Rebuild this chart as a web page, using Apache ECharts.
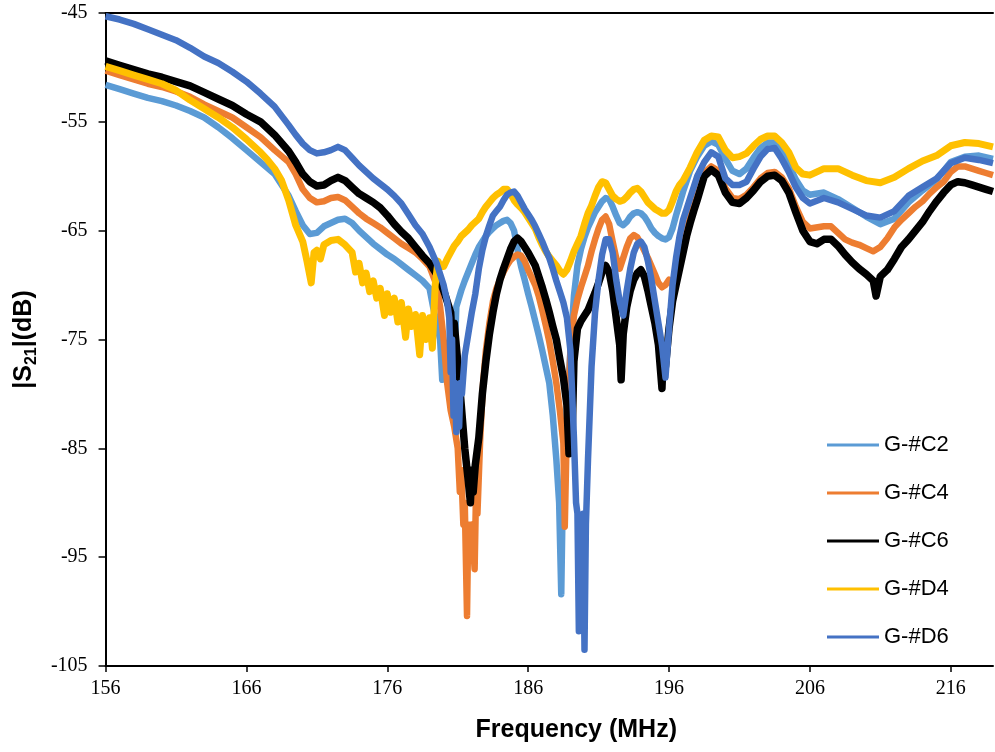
<!DOCTYPE html>
<html>
<head>
<meta charset="utf-8">
<script src="https://cdn.jsdelivr.net/npm/echarts/dist/echarts.min.js"></script>
<style>
html,body{margin:0;padding:0;background:#fff;}
#chart{width:995px;height:752px;}
</style>
</head>
<body>
<div id="chart"></div>
<script>
const seriesNames = ['G-#C2', 'G-#C4', 'G-#C6', 'G-#D4', 'G-#D6'];
const seriesColors = ['#5B9BD5', '#ED7D31', '#000000', '#FFC000', '#4472C4'];
const xTicks = [156, 166, 176, 186, 196, 206, 216];
const yTicks = [-105, -95, -85, -75, -65, -55, -45];

const dataC2 = [[156,-51.6],[157,-52.0],[158,-52.4],[159,-52.8],[160,-53.1],[161,-53.5],[162,-54.0],[163,-54.6],[164,-55.5],[165,-56.5],[166,-57.6],[167,-58.7],[168,-59.8],[169,-61.8],[169.5,-63.2],[170,-64.5],[170.5,-65.3],[171,-65.2],[171.5,-64.6],[172,-64.3],[172.5,-64.0],[173,-63.9],[173.5,-64.3],[174,-65.0],[174.5,-65.6],[175,-66.2],[175.5,-66.7],[176,-67.2],[176.5,-67.6],[177,-68.1],[177.5,-68.6],[178,-69.1],[178.5,-69.6],[179,-70.3],[179.25,-72],[179.5,-73.5],[179.75,-75],[179.9,-78.7],[180,-75.5],[180.25,-77],[180.5,-80],[180.75,-78],[180.9,-72],[181.25,-70.5],[181.5,-69.6],[181.75,-68.8],[182,-68],[182.25,-67.2],[182.5,-66.5],[182.75,-66],[183,-65.5],[183.25,-65.1],[183.5,-64.8],[183.75,-64.5],[184,-64.3],[184.25,-64.1],[184.5,-64.0],[184.75,-64.3],[185,-65],[185.25,-66.8],[185.5,-68.3],[185.75,-69.5],[186,-70.8],[186.25,-72],[186.5,-73.3],[186.75,-74.6],[187,-76],[187.25,-77.5],[187.5,-79],[187.75,-82],[188,-86],[188.2,-90],[188.35,-98.4],[188.45,-90],[188.6,-88],[188.75,-82],[189,-76],[189.25,-71],[189.5,-68.2],[189.75,-66.7],[190,-65.6],[190.25,-64.7],[190.5,-64],[190.75,-63.3],[191,-62.8],[191.25,-62.3],[191.5,-62],[191.75,-62.1],[192,-62.8],[192.25,-63.6],[192.5,-64.3],[192.75,-64.5],[193,-64.2],[193.25,-63.7],[193.5,-63.4],[193.75,-63.3],[194,-63.4],[194.25,-63.7],[194.5,-64.2],[194.75,-64.8],[195,-65.2],[195.25,-65.5],[195.5,-65.7],[195.75,-65.8],[196,-65.6],[196.25,-64.8],[196.5,-63.6],[196.75,-62.5],[197,-61.4],[197.5,-59.5],[198,-58.2],[198.5,-57.2],[199,-56.8],[199.5,-57.1],[200,-58.4],[200.5,-59.5],[201,-59.8],[201.5,-59.3],[202,-58.3],[202.5,-57.4],[203,-56.9],[203.5,-56.9],[204,-57.6],[204.5,-58.9],[205,-60.3],[205.5,-61.3],[206,-61.7],[207,-61.5],[208,-62.1],[209,-62.9],[210,-63.7],[211,-64.4],[212,-63.9],[213,-62.4],[214,-61.3],[215,-60.3],[216,-58.7],[217,-58.2],[218,-58.1],[219,-58.4]];

const dataC4 = [[156,-50.3],[157,-50.7],[158,-51.1],[159,-51.5],[160,-51.8],[161,-52.2],[162,-52.7],[163,-53.4],[164,-54.0],[165,-54.6],[166,-55.5],[167,-56.4],[168,-57.6],[169,-58.7],[169.5,-59.8],[170,-61.2],[170.5,-62.0],[171,-62.4],[171.5,-62.3],[172,-62.0],[172.5,-61.9],[173,-62.2],[173.5,-62.8],[174,-63.4],[174.5,-63.9],[175,-64.3],[175.5,-64.7],[176,-65.2],[176.5,-65.7],[177,-66.2],[177.5,-66.6],[178,-67.0],[178.5,-67.6],[179,-68.3],[179.5,-70],[179.75,-72],[180,-75],[180.25,-79],[180.5,-81.5],[180.75,-83],[181,-85],[181.15,-89],[181.25,-87],[181.4,-92],[181.5,-90],[181.66,-100.4],[181.75,-92],[181.9,-94.5],[182,-92],[182.2,-96.1],[182.3,-89],[182.4,-91],[182.6,-84],[182.8,-79],[183,-76],[183.25,-73.5],[183.5,-71.5],[183.75,-70.3],[184,-69.5],[184.25,-68.8],[184.5,-68.2],[184.75,-67.7],[185,-67.4],[185.25,-67.2],[185.5,-67.3],[185.75,-67.8],[186,-68.6],[186.25,-69.3],[186.5,-70],[186.75,-71],[187,-72.3],[187.25,-73.7],[187.5,-75.2],[187.75,-77],[188,-79],[188.25,-81.5],[188.5,-84.5],[188.6,-92.2],[188.7,-86],[188.85,-81],[189,-76],[189.25,-72.8],[189.5,-71.3],[189.75,-70.2],[190,-69.2],[190.25,-68.2],[190.5,-66.9],[190.75,-65.8],[191,-64.8],[191.25,-64],[191.5,-63.7],[191.75,-64.4],[192,-66],[192.25,-67.5],[192.5,-68.5],[192.75,-67.5],[193,-66.5],[193.25,-65.7],[193.5,-65.4],[193.75,-65.6],[194,-66.2],[194.5,-67.5],[195,-69],[195.25,-69.8],[195.5,-70.2],[195.75,-70],[196,-69.5],[196.25,-70],[196.5,-69],[196.75,-68],[197,-66.5],[197.25,-65],[197.5,-63.8],[197.75,-62.7],[198,-61.7],[198.5,-59.7],[199,-59.1],[199.5,-59.5],[200,-61.1],[200.5,-62],[201,-62.1],[201.5,-61.7],[202,-61],[202.5,-60.2],[203,-59.7],[203.5,-59.6],[204,-60.1],[204.5,-61.1],[205,-62.8],[205.5,-64.2],[206,-64.8],[207,-64.6],[207.5,-64.6],[208,-65.2],[208.5,-65.8],[209,-66.1],[209.5,-66.3],[210,-66.6],[210.5,-66.9],[211,-66.5],[211.5,-65.7],[212,-64.7],[212.5,-64],[213,-63.4],[213.5,-62.8],[214,-62.3],[214.5,-61.6],[215,-61],[215.5,-60.5],[216,-59.6],[216.5,-59.1],[217,-59.1],[217.5,-59.3],[218,-59.5],[218.5,-59.7],[219,-59.9]];

const dataC6 = [[156,-49.4],[157,-49.8],[158,-50.2],[159,-50.6],[160,-50.9],[161,-51.3],[162,-51.7],[163,-52.3],[164,-52.9],[165,-53.5],[166,-54.3],[167,-55.0],[168,-56.2],[169,-57.7],[169.5,-58.7],[170,-59.8],[170.5,-60.5],[171,-60.9],[171.5,-60.8],[172,-60.4],[172.5,-60.1],[173,-60.4],[173.5,-61.0],[174,-61.6],[174.5,-62.0],[175,-62.4],[175.5,-62.9],[176,-63.6],[176.5,-64.4],[177,-65.1],[177.5,-65.7],[178,-66.5],[178.5,-67.3],[179,-68.0],[179.5,-69.0],[180,-70.5],[180.25,-71.5],[180.5,-72.5],[180.6,-75],[180.75,-73.5],[181,-77],[181.25,-81],[181.5,-85],[181.75,-88],[181.9,-90],[182,-87],[182.1,-89],[182.25,-86.5],[182.5,-84],[182.75,-80],[183,-77],[183.25,-74.5],[183.5,-72.5],[183.75,-70.8],[184,-69.5],[184.25,-68.5],[184.5,-67.6],[184.75,-66.7],[185,-66],[185.25,-65.7],[185.5,-66],[185.75,-66.5],[186,-67],[186.25,-67.6],[186.5,-68.2],[186.75,-69.2],[187,-70.2],[187.25,-71.3],[187.5,-72.5],[187.75,-73.8],[188,-75],[188.25,-76.8],[188.5,-78.5],[188.75,-81],[188.9,-85.5],[189,-82],[189.1,-85],[189.25,-77],[189.5,-74],[189.75,-73.3],[190,-72.8],[190.25,-72.3],[190.5,-71.5],[190.75,-70.7],[191,-69.8],[191.25,-68.8],[191.5,-68.2],[191.75,-68.8],[192,-70.5],[192.25,-73],[192.5,-75.5],[192.6,-78.7],[192.75,-74.5],[193,-72],[193.25,-70.5],[193.5,-69.5],[193.75,-68.9],[194,-68.6],[194.25,-69.2],[194.5,-70.5],[194.75,-72],[195,-73.5],[195.25,-75.5],[195.5,-79.5],[195.6,-76],[195.75,-77.5],[196,-74],[196.25,-71.5],[196.5,-70],[196.75,-68.5],[197,-67],[197.25,-65.5],[197.5,-64.3],[197.75,-63.2],[198,-62.2],[198.5,-60],[199,-59.4],[199.5,-59.9],[200,-61.5],[200.5,-62.4],[201,-62.5],[201.5,-62],[202,-61.3],[202.5,-60.5],[203,-60],[203.5,-59.9],[204,-60.4],[204.5,-61.5],[205,-63.3],[205.5,-65],[206,-66],[206.5,-66.2],[207,-65.8],[207.5,-65.8],[208,-66.4],[208.5,-67.2],[209,-67.9],[209.5,-68.5],[210,-69],[210.5,-69.6],[210.7,-71],[211,-69.2],[211.5,-68.6],[212,-67.6],[212.5,-66.5],[213,-65.8],[213.5,-65],[214,-64.2],[214.5,-63.2],[215,-62.3],[215.5,-61.5],[216,-60.8],[216.5,-60.5],[217,-60.6],[217.5,-60.8],[218,-61],[218.5,-61.2],[219,-61.4]];

const dataD4 = [[156,-49.9],[157,-50.3],[158,-50.7],[159,-51.1],[160,-51.5],[161,-52.1],[162,-53.0],[163,-53.8],[164,-54.6],[165,-55.5],[166,-56.6],[167,-57.8],[167.5,-58.5],[168,-59.3],[168.5,-60.4],[169,-62.2],[169.5,-64.5],[170,-66],[170.3,-67.8],[170.6,-69.8],[170.8,-67],[171,-66.8],[171.25,-67.6],[171.5,-66.3],[172,-65.9],[172.5,-65.8],[173,-66.3],[173.5,-67],[173.75,-68.8],[174,-68],[174.25,-69.8],[174.5,-68.9],[174.75,-70.6],[175,-69.6],[175.25,-71.2],[175.5,-70.3],[175.8,-72.8],[176,-70.8],[176.25,-72.5],[176.5,-71.2],[176.75,-73.4],[177,-71.6],[177.3,-74.8],[177.5,-72.2],[177.75,-73.8],[178,-72.7],[178.3,-76.4],[178.5,-72.8],[178.75,-75],[179,-73],[179.2,-75.8],[179.4,-70],[179.6,-67.8],[179.75,-68.3],[180,-68.3],[180.25,-67.6],[180.5,-67],[180.75,-66.4],[181,-66],[181.25,-65.5],[181.5,-65.2],[181.75,-64.9],[182,-64.5],[182.25,-64.2],[182.5,-63.9],[182.75,-63.3],[183,-62.8],[183.25,-62.4],[183.5,-62],[183.75,-61.7],[184,-61.5],[184.25,-61.2],[184.5,-61.2],[184.75,-61.6],[185,-62.2],[185.25,-62.6],[185.5,-62.9],[185.75,-63.3],[186,-63.8],[186.25,-64.3],[186.5,-64.8],[186.75,-65.6],[187,-66.3],[187.25,-66.9],[187.5,-67.4],[187.75,-67.8],[188,-68.2],[188.25,-68.7],[188.5,-69],[188.75,-68.6],[189,-67.8],[189.25,-66.9],[189.5,-66.2],[189.75,-65.5],[190,-64.4],[190.25,-63.4],[190.5,-62.7],[190.75,-61.8],[191,-61],[191.25,-60.5],[191.5,-60.6],[191.75,-61.2],[192,-61.8],[192.25,-62.1],[192.5,-62.3],[192.75,-62.2],[193,-61.9],[193.25,-61.5],[193.5,-61.2],[193.75,-61.1],[194,-61.4],[194.25,-61.9],[194.5,-62.4],[194.75,-62.7],[195,-63],[195.25,-63.2],[195.5,-63.4],[195.75,-63.4],[196,-63.1],[196.25,-62.3],[196.5,-61.4],[196.75,-60.8],[197,-60.4],[197.5,-59.2],[198,-57.8],[198.5,-56.7],[199,-56.3],[199.5,-56.4],[200,-57.6],[200.5,-58.3],[201,-58.2],[201.5,-57.9],[202,-57.2],[202.5,-56.6],[203,-56.3],[203.5,-56.3],[204,-56.9],[204.5,-57.8],[205,-59.2],[205.5,-59.8],[206,-59.9],[207,-59.3],[208,-59.3],[209,-59.9],[210,-60.4],[211,-60.6],[212,-60.1],[213,-59.3],[214,-58.6],[215,-58.1],[216,-57.2],[217,-56.9],[218,-57],[219,-57.3]];

const dataD6 = [[156,-45.3],[157,-45.6],[158,-46.0],[159,-46.5],[160,-47.0],[161,-47.5],[162,-48.2],[163,-49.0],[164,-49.6],[165,-50.4],[166,-51.3],[167,-52.4],[168,-53.6],[169,-55.3],[169.5,-56.2],[170,-57.0],[170.5,-57.6],[171,-57.9],[171.5,-57.8],[172,-57.6],[172.5,-57.3],[173,-57.6],[173.5,-58.3],[174,-59.0],[174.5,-59.6],[175,-60.2],[175.5,-60.7],[176,-61.2],[176.5,-61.8],[177,-62.5],[177.5,-63.5],[178,-64.5],[178.5,-65.3],[179,-66.5],[179.5,-68],[180,-70],[180.25,-71.5],[180.4,-73],[180.5,-78],[180.6,-75],[180.7,-82],[180.8,-79],[180.9,-83.5],[181,-80],[181.1,-83],[181.2,-79],[181.3,-80],[181.5,-76.5],[181.75,-74.5],[182,-72.5],[182.25,-70.8],[182.5,-68.5],[182.75,-66.8],[183,-65.5],[183.25,-64.5],[183.5,-63.6],[183.75,-63.2],[184,-62.8],[184.25,-62.2],[184.5,-61.7],[184.75,-61.5],[185,-61.4],[185.25,-61.8],[185.5,-62.4],[185.75,-63],[186,-63.5],[186.25,-64],[186.5,-64.6],[186.75,-65.3],[187,-66],[187.25,-66.8],[187.5,-67.5],[187.75,-68.5],[188,-69.6],[188.25,-70.6],[188.5,-71.6],[188.75,-73],[189,-76],[189.25,-84],[189.4,-90],[189.5,-91],[189.6,-101.8],[189.7,-92],[189.8,-93],[189.9,-91],[190,-103.5],[190.1,-92],[190.25,-86],[190.5,-77.5],[190.75,-72.5],[191,-69.5],[191.25,-67.2],[191.5,-65.8],[191.75,-65.8],[192,-67],[192.25,-69.5],[192.5,-71.5],[192.75,-72.8],[193,-70.5],[193.25,-68.5],[193.5,-67],[193.75,-66.2],[194,-66],[194.25,-66.5],[194.5,-67.8],[194.75,-69.5],[195,-71.5],[195.25,-73.5],[195.5,-75.5],[195.75,-78.5],[196,-74],[196.25,-70],[196.5,-67.5],[196.75,-65.5],[197,-64],[197.25,-63],[197.5,-62],[197.75,-61],[198,-60],[198.5,-58.7],[199,-57.8],[199.5,-58.2],[200,-60.2],[200.5,-60.8],[201,-60.8],[201.5,-60.5],[202,-59.3],[202.5,-58.2],[203,-57.5],[203.5,-57.4],[204,-58.4],[204.5,-59.6],[205,-61],[205.5,-62],[206,-62.5],[207,-62],[208,-62.4],[209,-63],[210,-63.6],[211,-63.8],[212,-63.2],[213,-61.8],[214,-61],[215,-60.2],[216,-58.8],[217,-58.3],[218,-58.5],[219,-58.8]];

const allData = [dataC2, dataC4, dataC6, dataD4, dataD6];
const lineWidths = [6.5, 6.5, 7.5, 7, 6.5];

const chart = echarts.init(document.getElementById('chart'), null, {renderer: 'canvas'});
const serifFont = 'Liberation Serif, Times New Roman, serif';
const sansFont = 'Liberation Sans, Arial, sans-serif';

chart.setOption({
  animation: false,
  backgroundColor: '#ffffff',
  grid: {left: 105, right: 2, top: 13, bottom: 86},
  legend: {
    orient: 'vertical',
    left: 822,
    top: 429,
    itemWidth: 52,
    itemHeight: 3,
    itemGap: 26,
    icon: 'rect',
    data: seriesNames,
    textStyle: {fontFamily: sansFont, fontSize: 22, lineHeight: 22, color: '#000'}
  },
  xAxis: [{
    type: 'value',
    min: 156,
    max: 219,
    axisLine: {show: true, onZero: false, lineStyle: {color: '#000', width: 2}},
    axisTick: {show: true, length: 6, customValues: xTicks, lineStyle: {color: '#000', width: 1.5}},
    axisLabel: {customValues: xTicks, fontFamily: serifFont, fontSize: 20, color: '#000', margin: 13},
    splitLine: {show: false},
    name: 'Frequency (MHz)',
    nameLocation: 'middle',
    nameGap: 52,
    nameTextStyle: {fontFamily: sansFont, fontWeight: 'bold', fontSize: 25, color: '#000', padding: [0, 0, 0, 54]}
  }, {
    type: 'value',
    position: 'top',
    min: 156,
    max: 219,
    axisLine: {show: true, onZero: false, lineStyle: {color: '#000', width: 2}},
    axisTick: {show: false},
    axisLabel: {show: false},
    splitLine: {show: false}
  }],
  yAxis: {
    type: 'value',
    min: -105,
    max: -45,
    axisLine: {show: true, onZero: false, lineStyle: {color: '#000', width: 2}},
    axisTick: {show: true, length: 7, customValues: yTicks, lineStyle: {color: '#000', width: 1.5}},
    axisLabel: {customValues: yTicks, fontFamily: serifFont, fontSize: 20, color: '#000', margin: 18},
    splitLine: {show: false},
    name: '|S{sub|21}|(dB)',
    nameLocation: 'middle',
    nameGap: 62,
    nameRotate: 90,
    nameTextStyle: {
      fontFamily: sansFont, fontWeight: 'bold', fontSize: 25, lineHeight: 32, color: '#000',
      rich: {
        sub: {fontFamily: sansFont, fontWeight: 'bold', fontSize: 16, lineHeight: 16, verticalAlign: 'bottom', color: '#000'}
      }
    }
  },
  series: seriesNames.map((name, i) => ({
    name: name,
    type: 'line',
    xAxisIndex: 0,
    data: allData[i],
    showSymbol: false,
    symbol: 'none',
    color: seriesColors[i],
    lineStyle: {color: seriesColors[i], width: lineWidths[i], join: 'round', cap: 'butt'},
    emphasis: {disabled: true}
  }))
});
</script>
</body>
</html>
